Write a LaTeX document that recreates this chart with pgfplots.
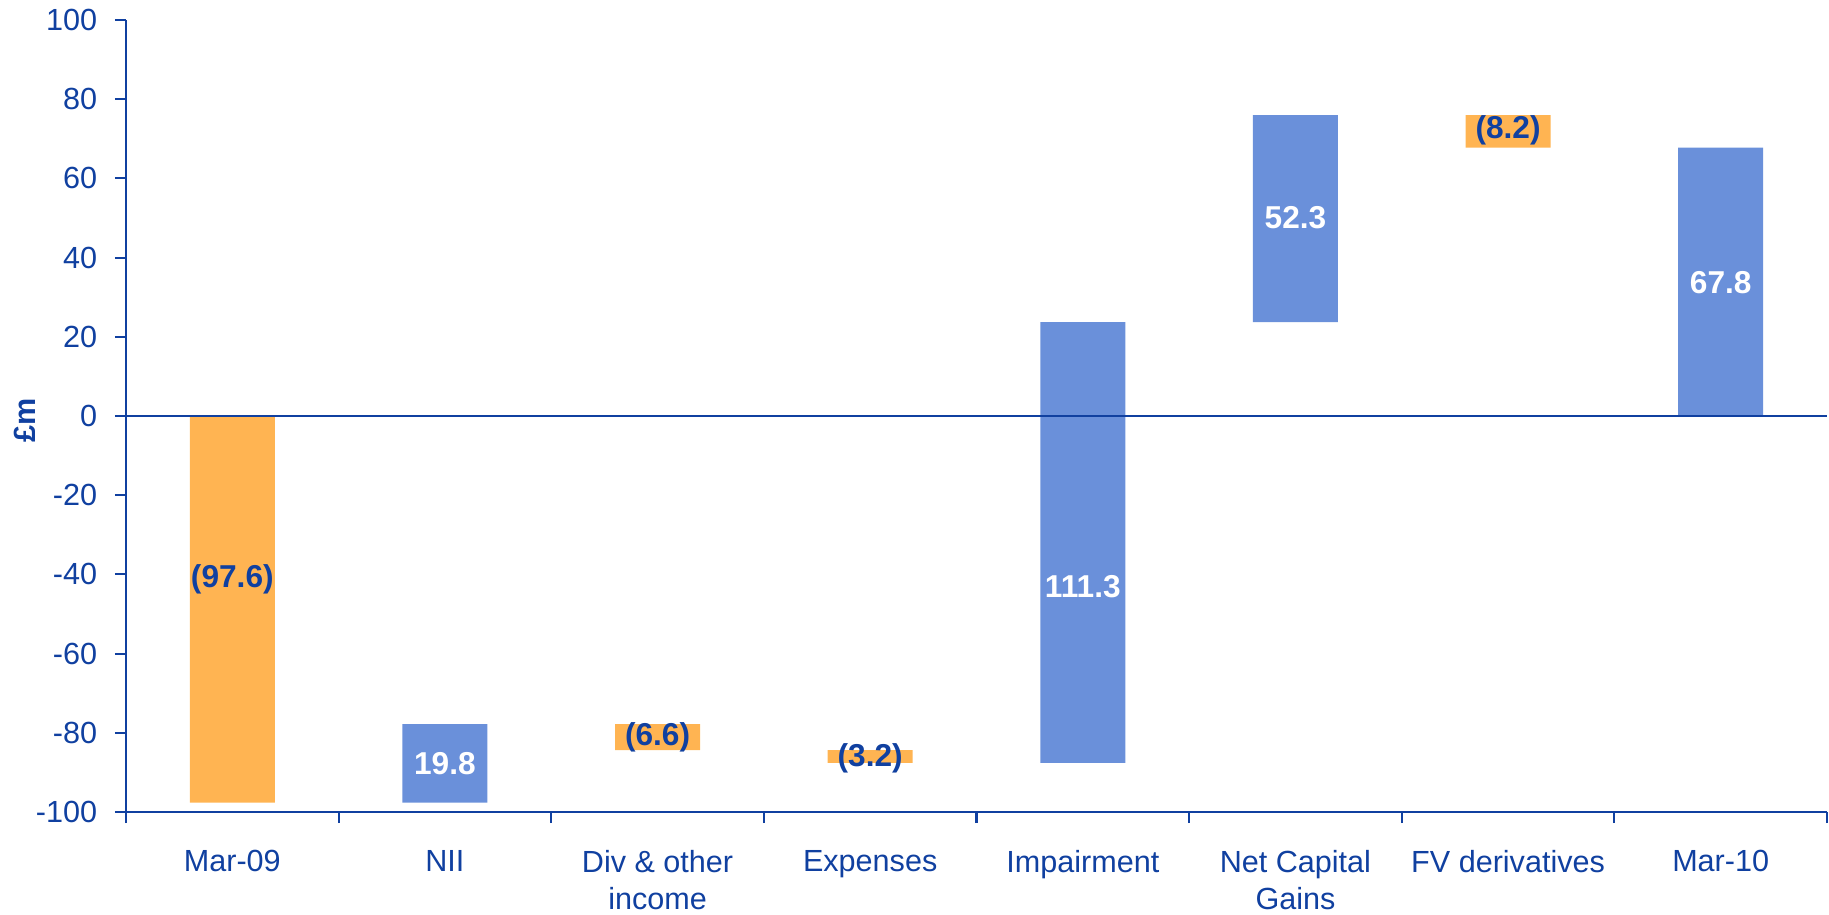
\documentclass[border=0pt]{standalone}
\usepackage{fontspec}
\setmainfont{Liberation Sans}
\usepackage{pgfplots}
\pgfplotsset{compat=1.18}

\definecolor{barorange}{HTML}{FFB452}
\definecolor{barblue}{HTML}{6A90DA}
\definecolor{axisblue}{HTML}{1040A0}

\newcommand{\lbl}{\fontsize{8.7}{10.5}\selectfont}
\tikzset{lab/.style={font=\fontsize{9}{10}\selectfont\bfseries}}

\begin{document}
\begin{tikzpicture}
\begin{axis}[
    scale only axis,
    width=170.1mm, height=79.2mm,
    ybar stacked, stack negative=on previous, bar width=8.5mm,
    xmin=0, xmax=8, ymin=-100, ymax=100,
    axis x line=bottom, axis y line=left,
    axis line style={-, axisblue, line width=0.7pt},
    xtick={0.5,1.5,...,7.5},
    xticklabels={Mar-09, NII, {Div \& other\\income}, Expenses, Impairment,
                 {Net Capital\\Gains}, FV derivatives, Mar-10},
    minor xtick={0,1,...,8},
    major x tick style={draw=none},
    ytick={-100,-80,...,100},
    tick align=outside,
    major tick length=1.1mm, minor tick length=1.1mm,
    tick style={axisblue, line width=0.6pt},
    xticklabel style={align=center, font=\lbl, text=axisblue, yshift=-1.5mm},
    yticklabel style={font=\lbl, text=axisblue, xshift=-0.55mm},
    /pgf/number format/assume math mode=true,
    ylabel={\textbf{£m}},
    every axis y label/.style={at={(axis description cs:-0.0594,0.494)},
        anchor=center, rotate=90, font=\lbl, text=axisblue},
]
% invisible base of each step
\addplot[draw=none, fill=none] coordinates {
    (0.5,0) (1.5,-97.6) (2.5,-77.8) (3.5,-84.4) (4.5,-87.6) (5.5,23.7) (6.5,76.0) (7.5,0)};
% decreases
\addplot[draw=none, fill=barorange] coordinates {
    (0.5,-97.6) (1.5,0) (2.5,-6.6) (3.5,-3.2) (4.5,0) (5.5,0) (6.5,-8.2) (7.5,0)};
% increases
\addplot[draw=none, fill=barblue] coordinates {
    (0.5,0) (1.5,19.8) (2.5,0) (3.5,0) (4.5,111.3) (5.5,52.3) (6.5,0) (7.5,67.8)};

\coordinate (Z0) at (axis cs:0,0);
\coordinate (Z1) at (axis cs:8,0);
\coordinate (L1) at (axis cs:0.5,-41.3);
\coordinate (L2) at (axis cs:1.5,-87.9);
\coordinate (L3) at (axis cs:2.5,-81.2);
\coordinate (L4) at (axis cs:3.5,-86.4);
\coordinate (L5) at (axis cs:4.5,-43.1);
\coordinate (L6) at (axis cs:5.5,50.0);
\coordinate (L7) at (axis cs:6.5,72.1);
\coordinate (L8) at (axis cs:7.5,33.8);
\coordinate (SW) at (rel axis cs:0,0);
\coordinate (NE) at (rel axis cs:1,1);
\end{axis}

\draw[axisblue, line width=0.7pt] (Z0) -- (Z1);
\node[lab, text=axisblue] at (L1) {(97.6)};
\node[lab, text=white]    at (L2) {19.8};
\node[lab, text=axisblue] at (L3) {(6.6)};
\node[lab, text=axisblue] at (L4) {(3.2)};
\node[lab, text=white]    at (L5) {111.3};
\node[lab, text=white]    at (L6) {52.3};
\node[lab, text=axisblue] at (L7) {(8.2)};
\node[lab, text=white]    at (L8) {67.8};

\pgfresetboundingbox
\path[use as bounding box] ([shift={(-12.6mm,-10.2mm)}]SW) rectangle ([shift={(0.2mm,2mm)}]NE);
\end{tikzpicture}
\end{document}
